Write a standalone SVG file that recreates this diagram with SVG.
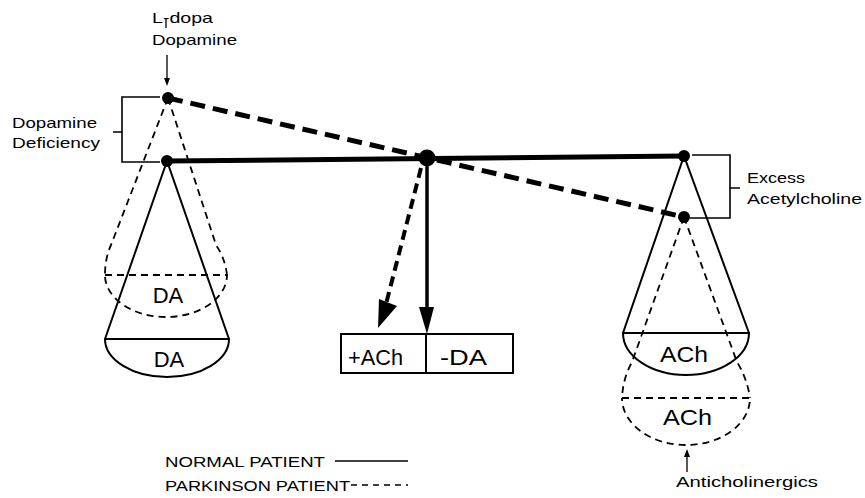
<svg xmlns="http://www.w3.org/2000/svg" width="865" height="498" viewBox="0 0 865 498">
<defs>
<style>
text{font-family:"Liberation Sans",Arial,sans-serif;fill:#000}
.lbl{font-size:15px}
.big{font-size:22px}
.leg{font-size:15.5px}
.thin{stroke:#000;stroke-width:2;fill:none}
.dthin{stroke:#000;stroke-width:1.8;fill:none;stroke-dasharray:7 5}
.beam{stroke:#000;stroke-width:5;fill:none}
.dbeam{stroke:#000;stroke-width:5;fill:none;stroke-dasharray:15 8}
.br{stroke:#000;stroke-width:1.6;fill:none}
.dot{fill:#000}
</style>
</defs>
<rect width="865" height="498" fill="#fff"/>

<g id="connectors">
  <line class="beam" x1="167" y1="161" x2="684" y2="156"/>
  <line class="dbeam" x1="168" y1="98" x2="684" y2="217"/>
  <line stroke="#000" stroke-width="3.5" x1="427" y1="158" x2="427" y2="310"/>
  <polygon class="dot" points="419,307 434,307 427,334"/>
  <line stroke="#000" stroke-width="4" stroke-dasharray="10 6" x1="421" y1="168" x2="386" y2="304"/>
  <polygon class="dot" points="379,299 397,306 378,328"/>
  <line stroke="#000" stroke-width="1.3" x1="167" y1="55" x2="167" y2="80"/>
  <polygon class="dot" points="164,78 170,78 167,86"/>
  <line stroke="#000" stroke-width="1.3" x1="687" y1="472" x2="687" y2="455"/>
  <polygon class="dot" points="684,457 690,457 687,449"/>
</g>

<g id="pivot">
  <circle class="dot" cx="427" cy="158" r="8.5"/>
</g>

<g id="left-normal-pan">
  <circle class="dot" cx="167" cy="161" r="6"/>
  <path class="thin" d="M105,339 L167,161 L229,339"/>
  <path class="thin" d="M105,339 L229,339 A62 38 0 0 1 105,339 Z" stroke-width="2.2"/>
  <text class="big" x="169" y="367" text-anchor="middle">DA</text>
</g>

<g id="left-parkinson-pan">
  <circle class="dot" cx="168" cy="98" r="6"/>
  <path class="dthin" d="M168,98 L111,245 Q105,258 105,275"/>
  <path class="dthin" d="M168,98 L216,245 Q225,258 227,275"/>
  <path class="dthin" d="M105,275 L227,275 A61 42 0 0 1 105,275"/>
  <text class="big" x="168" y="303" text-anchor="middle">DA</text>
</g>

<g id="right-normal-pan">
  <circle class="dot" cx="684" cy="156" r="6"/>
  <path class="thin" d="M623,333 L684,156 L749,333"/>
  <path class="thin" d="M623,333 L749,333 A63 42 0 0 1 623,333 Z" stroke-width="2.2"/>
  <text class="big" x="660" y="362" textLength="48" lengthAdjust="spacingAndGlyphs">ACh</text>
</g>

<g id="right-parkinson-pan">
  <circle class="dot" cx="684" cy="217" r="6"/>
  <path class="dthin" d="M684,217 L632,362 Q623,378 622,398"/>
  <path class="dthin" d="M684,217 L737,362 Q747,378 750,398"/>
  <path class="dthin" d="M622,398 L750,398 A64 47 0 0 1 622,398"/>
  <text class="big" x="663" y="425" textLength="49" lengthAdjust="spacingAndGlyphs">ACh</text>
</g>

<g id="result-box">
  <rect x="341" y="334" width="172" height="39" fill="#fff" stroke="#000" stroke-width="2"/>
  <line stroke="#000" stroke-width="2" x1="426" y1="334" x2="426" y2="373"/>
  <text class="big" x="348" y="365" textLength="55" lengthAdjust="spacingAndGlyphs">+ACh</text>
  <text class="big" x="440" y="365" textLength="47" lengthAdjust="spacingAndGlyphs">-DA</text>
</g>

<g id="ldopa-label">
  <text class="lbl" x="152" y="23" textLength="61" lengthAdjust="spacingAndGlyphs">L-dopa</text>
  <line stroke="#000" stroke-width="1.3" x1="166" y1="19" x2="166" y2="28"/>
  <text class="lbl" x="152" y="45" textLength="85" lengthAdjust="spacingAndGlyphs">Dopamine</text>
</g>

<g id="dopamine-deficiency">
  <path class="br" d="M160,97 H122 V162 H160 M113,132 H122"/>
  <text class="lbl" x="12" y="128" textLength="85" lengthAdjust="spacingAndGlyphs">Dopamine</text>
  <text class="lbl" x="12" y="148" textLength="88" lengthAdjust="spacingAndGlyphs">Deficiency</text>
</g>

<g id="excess-acetylcholine">
  <path class="br" d="M692,155 H730 V218 H690 M730,188 H740"/>
  <text class="lbl" x="747" y="183" textLength="58" lengthAdjust="spacingAndGlyphs">Excess</text>
  <text class="lbl" x="747" y="204" textLength="115" lengthAdjust="spacingAndGlyphs">Acetylcholine</text>
</g>

<g id="anticholinergics">
  <text class="lbl" x="676" y="487" textLength="142" lengthAdjust="spacingAndGlyphs">Anticholinergics</text>
</g>

<g id="legend">
  <text class="leg" x="165" y="467" textLength="160" lengthAdjust="spacingAndGlyphs">NORMAL PATIENT</text>
  <line stroke="#000" stroke-width="1.5" x1="335" y1="461" x2="408" y2="461"/>
  <text class="leg" x="165" y="491" textLength="185" lengthAdjust="spacingAndGlyphs">PARKINSON PATIENT</text>
  <line stroke="#000" stroke-width="1.5" stroke-dasharray="6 5" x1="351" y1="485" x2="408" y2="485"/>
</g>
</svg>
